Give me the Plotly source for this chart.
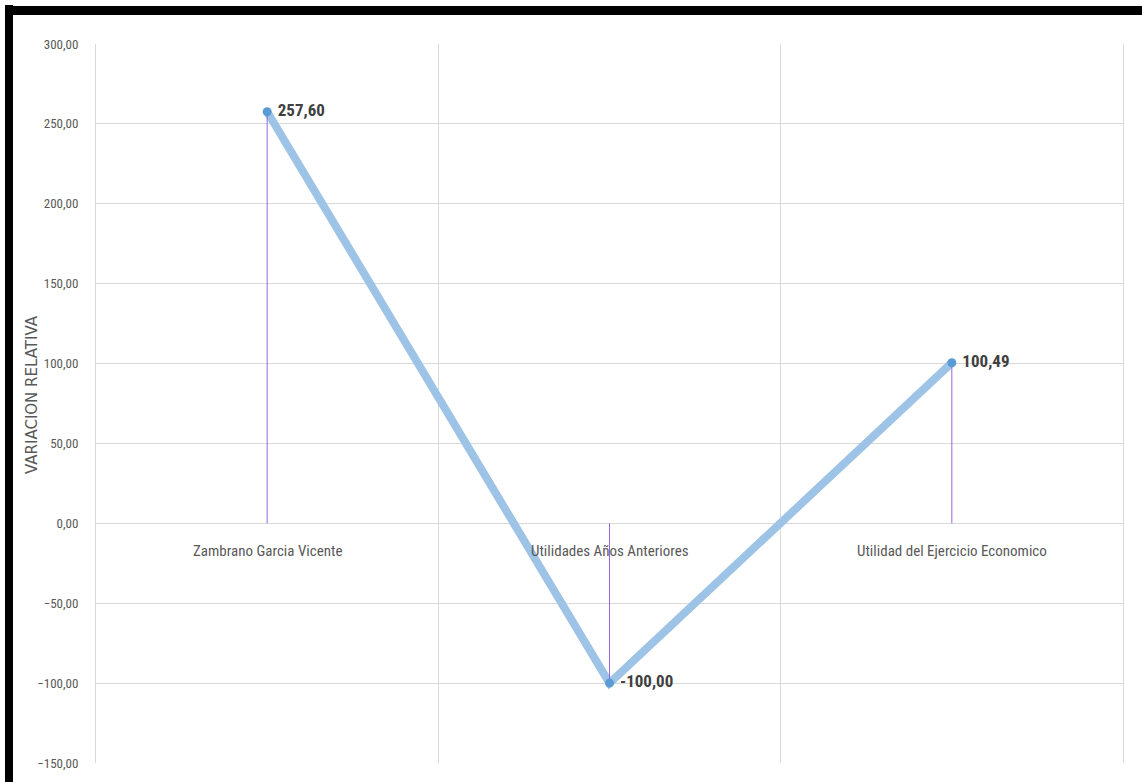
import plotly.graph_objects as go

# Partidas analizadas y su variación relativa (%)
categorias = ["Zambrano Garcia Vicente", "Utilidades Años Anteriores", "Utilidad del Ejercicio Economico"]
variacion = [257.60, -100.00, 100.49]

# Escala del eje vertical
y_min, y_max, y_paso = -150, 300, 50

FONT = "Liberation Sans Narrow, Roboto Condensed, Arial Narrow, sans-serif"

fig = go.Figure()

# Línea principal de la serie
fig.add_trace(go.Scatter(
    x=categorias, y=variacion, mode="lines",
    line=dict(color="#9dc3e6", width=8),
    hoverinfo="skip", showlegend=False,
))

# Líneas de caída desde cada punto hasta el eje cero
drop_x, drop_y = [], []
for c, v in zip(categorias, variacion):
    drop_x += [c, c, None]
    drop_y += [0, v, None]
fig.add_trace(go.Scatter(
    x=drop_x, y=drop_y, mode="lines",
    line=dict(color="#9a66e0", width=1),
    hoverinfo="skip", showlegend=False,
))

# Marcadores y etiquetas de datos
fig.add_trace(go.Scatter(
    x=categorias, y=variacion, mode="markers+text",
    marker=dict(color="#5b9bd5", size=9),
    texttemplate=" %{y:.2f}", textposition="middle right",
    textfont=dict(family=FONT, size=17, color="#404040", weight="bold"),
    showlegend=False,
))

# Nombres de categoría justo debajo de la línea cero
for c in categorias:
    fig.add_annotation(
        x=c, y=0, xref="x", yref="y", text=c, showarrow=False,
        yanchor="top", yshift=-17,
        font=dict(family=FONT, size=15, color="#595959"),
    )

# Marco negro en los bordes superior e izquierdo
W, H = 1142, 782
ml, mr, mt, mb = 96, 19, 44, 19
pw, ph = W - ml - mr, H - mt - mb
def px(x):
    return (x - ml) / pw
def py(y):
    return (H - mb - y) / ph
fig.add_shape(type="rect", xref="paper", yref="paper",
              x0=px(5), x1=px(13), y0=py(782), y1=py(5),
              fillcolor="black", line_width=0, layer="above")
fig.add_shape(type="rect", xref="paper", yref="paper",
              x0=px(5), x1=px(1142), y0=py(15), y1=py(6),
              fillcolor="black", line_width=0, layer="above")

# Título del eje vertical
fig.add_annotation(
    x=px(32), y=py(395), xref="paper", yref="paper",
    text="VARIACION RELATIVA", textangle=-90, showarrow=False,
    xanchor="center", yanchor="middle",
    font=dict(family="DejaVu Sans, sans-serif", size=15, color="#595959"),
)

fig.update_layout(
    width=W, height=H,
    margin=dict(l=ml, r=mr, t=mt, b=mb),
    paper_bgcolor="white", plot_bgcolor="white",
    separators=",.",
    font=dict(family=FONT, color="#595959"),
    xaxis=dict(
        type="category", range=[-0.5, 2.5], tickson="boundaries",
        showticklabels=False, ticks="", showgrid=True,
        gridcolor="#d9d9d9", gridwidth=1, zeroline=False,
        showline=False,
    ),
    yaxis=dict(
        range=[y_min, y_max], dtick=y_paso, tick0=0, tickformat=".2f",
        showgrid=True, gridcolor="#d9d9d9", gridwidth=1,
        zeroline=True, zerolinecolor="#d9d9d9", zerolinewidth=1,
        ticks="", ticklabelstandoff=14,
        tickfont=dict(family=FONT, size=13, color="#595959"),
        showline=True, linecolor="#d9d9d9", linewidth=1, mirror=True,
    ),
)

fig.write_html("out.html")
